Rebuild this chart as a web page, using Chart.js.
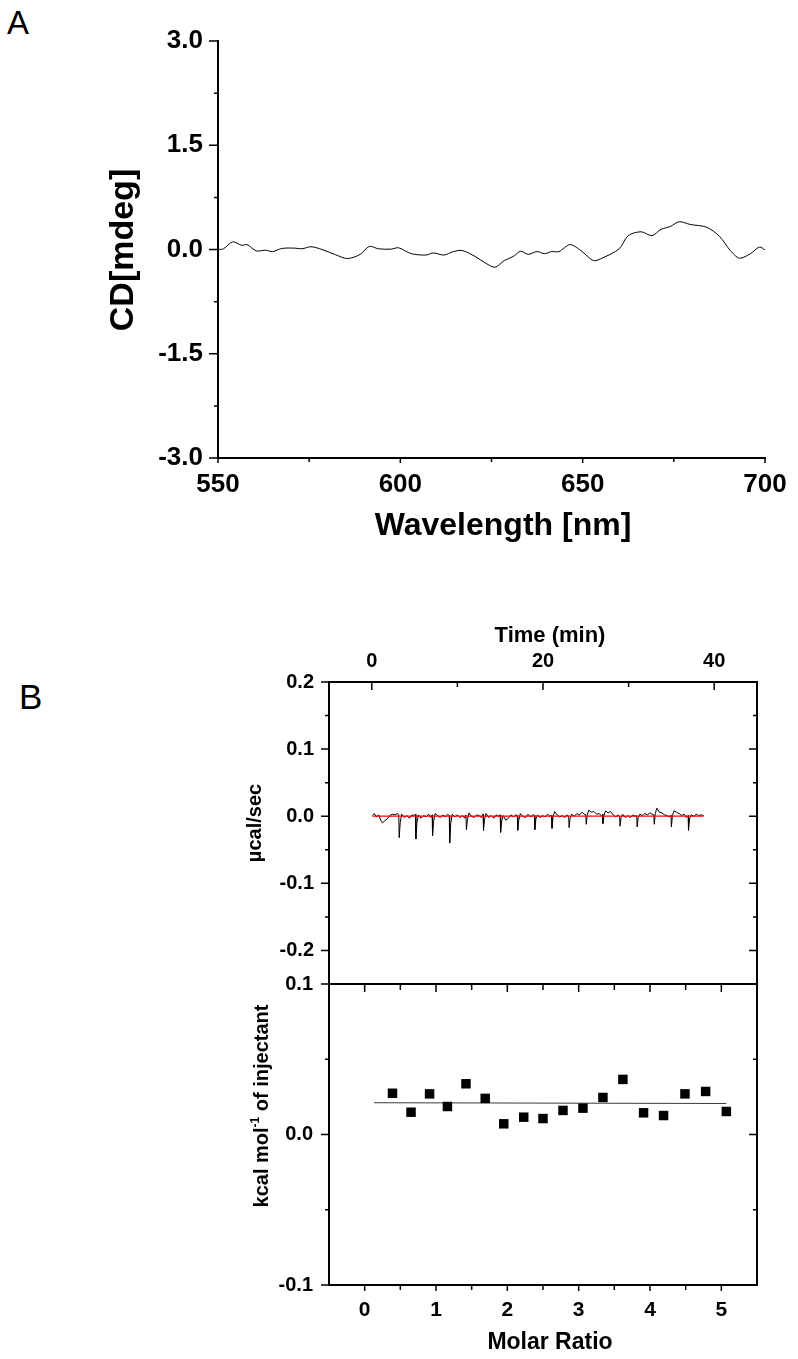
<!DOCTYPE html>
<html>
<head>
<meta charset="utf-8">
<script src="https://cdn.jsdelivr.net/npm/chart.js@4.4.0/dist/chart.umd.min.js"></script>
<style>
  html, body { margin: 0; padding: 0; background: #fff; }
  body { width: 798px; height: 1359px; position: relative; overflow: hidden; }
  canvas { position: absolute; left: 0; top: 0; }
  .panel { position: absolute; font-family: 'Liberation Sans', Arial, sans-serif; line-height: 1; color: #000; }
</style>
</head>
<body>
<div class="panel" style="left:7px; top:6px; font-size:33px">A</div>
<div class="panel" style="left:19px; top:679px; font-size:35px">B</div>
<canvas id="cdChart" width="798" height="1359"></canvas>
<canvas id="rawChart" width="798" height="1359"></canvas>
<canvas id="heatChart" width="798" height="1359"></canvas>
<script>
// panel A - CD spectrum
const wavelength = [550, 551.5, 554, 556.5, 558, 560.5, 563, 565, 567.5, 571, 573, 575.5, 578.5, 582, 585.5, 589, 591.5, 594, 597.5, 599.5,
  603, 607, 609, 612, 614.5, 617, 620.5, 623.5, 626, 628.5, 631, 633, 635, 637.5, 639.5, 641.5, 643.5, 646.5, 649.5, 653,
  655.5, 660, 662.5, 666, 669, 671.5, 674, 676.5, 679.5, 684, 687.5, 690.5, 693, 696, 698.5, 700]
const cdSignal = [0.00, 0.01, 0.11, 0.06, 0.07, -0.02, -0.01, -0.03, 0.015, 0.02, 0.01, 0.04, 0.0, -0.07, -0.13, -0.07, 0.045, 0.01, 0.005, 0.025,
  -0.06, -0.08, -0.05, -0.08, -0.03, -0.015, -0.10, -0.20, -0.255, -0.16, -0.10, -0.025, -0.07, -0.03, -0.06, -0.03, -0.03, 0.07, -0.015, -0.16,
  -0.12, 0.01, 0.20, 0.255, 0.20, 0.29, 0.33, 0.40, 0.36, 0.32, 0.19, -0.015, -0.125, -0.06, 0.035, -0.005]
const cdXTicks = [550, 600, 650, 700]
const cdXMinor = [575, 625, 675]
const cdYTicks = [-3, -1.5, 0, 1.5, 3]
const cdYMinor = [-2.25, -0.75, 0.75, 2.25]

// panel B top - raw ITC heat rate
const itcTime = [
  0.07, 0.3, 0.55, 0.8, 1.05, 1.25, 1.5, 1.8, 2.1, 2.4, 2.7, 2.95, 3.15,
  3.2, 3.32, 3.5, 3.8, 4.1, 4.4, 4.7, 4.95, 5.1,
  5.15, 5.27, 5.45, 5.75, 6.05, 6.35, 6.65, 6.9, 7.05,
  7.1, 7.22, 7.4, 7.7, 8.0, 8.3, 8.6, 8.85, 9.05,
  9.1, 9.22, 9.4, 9.7, 10.0, 10.3, 10.6, 10.85, 11.0,
  11.05, 11.17, 11.35, 11.65, 11.95, 12.25, 12.55, 12.8, 13.0,
  13.05, 13.17, 13.35, 13.65, 13.95, 14.25, 14.55, 14.8, 15.0,
  15.05, 15.17, 15.35, 15.65, 15.95, 16.25, 16.55, 16.8, 17.0,
  17.05, 17.17, 17.35, 17.65, 17.95, 18.25, 18.55, 18.8, 19.0,
  19.05, 19.17, 19.35, 19.65, 19.95, 20.25, 20.55, 20.8, 21.0,
  21.05, 21.17, 21.35, 21.65, 21.95, 22.25, 22.55, 22.8, 23.0,
  23.05, 23.17, 23.35, 23.65, 23.95, 24.25, 24.55, 24.8, 25.0,
  25.05, 25.17, 25.35, 25.65, 25.95, 26.25, 26.55, 26.8, 26.95,
  27.0, 27.12, 27.3, 27.6, 27.9, 28.2, 28.5, 28.75, 28.95,
  29.0, 29.12, 29.3, 29.6, 29.9, 30.2, 30.5, 30.75, 30.95,
  31.0, 31.12, 31.3, 31.6, 31.9, 32.2, 32.5, 32.75, 32.95,
  33.0, 33.12, 33.3, 33.6, 33.9, 34.2, 34.5, 34.75, 34.95,
  35.0, 35.12, 35.3, 35.6, 35.9, 36.2, 36.5, 36.75, 36.95,
  37.0, 37.12, 37.3, 37.6, 37.9, 38.2, 38.45, 38.75
]
const itcPower = [
  0.001, 0.004, -0.001, 0.002, -0.006, -0.010, -0.007, -0.004, 0.001, 0.003, 0.002, 0.004, 0.002,
  -0.032, -0.009, 0.003, -0.002, 0.001, -0.003, 0.002, 0.001, 0.003,
  -0.034, -0.010, 0.002, -0.003, 0.001, -0.001, 0.003, -0.002, 0.002,
  -0.029, -0.008, 0.004, 0.001, -0.002, 0.002, -0.001, 0.003, 0.001,
  -0.040, -0.011, 0.003, -0.001, 0.002, -0.002, 0.001, -0.003, 0.002,
  -0.020, -0.006, 0.005, 0.000, -0.002, 0.002, 0.001, -0.002, 0.003,
  -0.021, -0.005, 0.004, -0.002, 0.001, -0.003, 0.002, 0.000, 0.002,
  -0.024, -0.007, 0.001, -0.006, -0.003, 0.002, -0.001, 0.002, 0.001,
  -0.021, -0.006, 0.004, 0.000, -0.002, 0.003, -0.001, 0.002, 0.001,
  -0.020, -0.004, 0.002, -0.002, 0.001, -0.001, 0.003, 0.000, 0.001,
  -0.018, -0.002, 0.007, 0.002, -0.001, 0.001, -0.002, 0.002, 0.000,
  -0.017, -0.003, 0.003, 0.000, 0.004, 0.002, 0.006, 0.003, 0.002,
  -0.012, 0.002, 0.009, 0.006, 0.007, 0.003, 0.004, 0.001, 0.003,
  -0.011, 0.001, 0.008, 0.005, 0.007, 0.002, -0.001, 0.002, 0.000,
  -0.015, -0.002, 0.003, -0.002, 0.001, -0.002, 0.002, 0.000, 0.001,
  -0.016, -0.002, 0.003, 0.001, 0.004, 0.002, 0.005, 0.003, 0.002,
  -0.012, 0.004, 0.012, 0.006, 0.005, 0.002, 0.001, -0.001, 0.002,
  -0.016, 0.001, 0.008, 0.006, 0.004, 0.001, 0.003, -0.002, 0.001,
  -0.021, -0.004, 0.002, 0.000, 0.003, 0.001, 0.002, 0.001
]
const baselineTime = [0.07, 38.75]
const baselinePower = [0, 0]
const timeTicks = [0, 20, 40]
const timeMinor = [10, 30]
const powerTicks = [-0.2, -0.1, 0, 0.1, 0.2]
const powerMinor = [-0.15, -0.05, 0.05, 0.15]

// panel B bottom - integrated heats
const molarRatio = [0.39, 0.65, 0.91, 1.16, 1.42, 1.69, 1.95, 2.23, 2.50, 2.78, 3.06, 3.34, 3.62, 3.91, 4.19, 4.49, 4.78, 5.07]
const heat = [0.0274, 0.0148, 0.0270, 0.0186, 0.0337, 0.0240, 0.0071, 0.0115, 0.0106, 0.0160, 0.0175, 0.0246, 0.0366, 0.0144, 0.0126, 0.0270, 0.0286, 0.0153]
const fitRatio = [0.13, 5.07]
const fitHeat = [0.0211, 0.0206]
const ratioTicks = [0, 1, 2, 3, 4, 5]
const ratioMinor = [0.5, 1.5, 2.5, 3.5, 4.5]
const heatTicks = [-0.1, 0, 0.1]
const heatMinor = [-0.05, 0.05]

const FONT = "'Liberation Sans', Arial, Helvetica, sans-serif"
Chart.defaults.font.family = FONT
Chart.defaults.color = '#000'
Chart.defaults.animation = false
Chart.defaults.events = []
Chart.defaults.plugins.legend.display = false
Chart.defaults.plugins.tooltip.enabled = false

const pts = (xs, ys) => xs.map((x, i) => ({ x: x, y: ys[i] }))
const fixTicks = vals => scale => { scale.ticks = vals.map(v => ({ value: v })) }
const noGrid = { display: false, drawTicks: false }

// axis frame + tick marks (len > 0 outward, len < 0 inward)
function frame(cfg) {
  return {
    id: 'frame',
    afterDraw(chart) {
      const { ctx, chartArea: a } = chart
      ctx.save()
      ctx.strokeStyle = '#000'
      ctx.lineWidth = 2
      ctx.lineCap = 'square'
      ctx.beginPath()
      cfg.sides.forEach(side => {
        if (side === 'left') { ctx.moveTo(a.left, a.top); ctx.lineTo(a.left, a.bottom) }
        if (side === 'right') { ctx.moveTo(a.right, a.top); ctx.lineTo(a.right, a.bottom) }
        if (side === 'top') { ctx.moveTo(a.left, a.top); ctx.lineTo(a.right, a.top) }
        if (side === 'bottom') { ctx.moveTo(a.left, a.bottom); ctx.lineTo(a.right, a.bottom) }
      })
      ctx.stroke()
      ctx.lineWidth = 1.5
      ctx.lineCap = 'butt'
      ctx.beginPath()
      cfg.marks.forEach(m => {
        const s = chart.scales[m.scale]
        m.values.forEach(v => {
          const p = s.getPixelForValue(v)
          if (m.side === 'left') { ctx.moveTo(a.left, p); ctx.lineTo(a.left - m.len, p) }
          if (m.side === 'right') { ctx.moveTo(a.right, p); ctx.lineTo(a.right + m.len, p) }
          if (m.side === 'top') { ctx.moveTo(p, a.top); ctx.lineTo(p, a.top - m.len) }
          if (m.side === 'bottom') { ctx.moveTo(p, a.bottom); ctx.lineTo(p, a.bottom + m.len) }
        })
      })
      ctx.stroke()
      ctx.restore()
    }
  }
}

// axis titles, parts may be superscript
function titles(items) {
  return {
    id: 'titles',
    afterDraw(chart) {
      const ctx = chart.ctx
      items.forEach(t => {
        const parts = t.parts || [{ text: t.text }]
        const big = 'bold ' + t.size + 'px ' + FONT
        const small = 'bold ' + Math.round(t.size * 0.6) + 'px ' + FONT
        ctx.save()
        ctx.translate(t.x, t.y)
        if (t.rotate) ctx.rotate(-Math.PI / 2)
        ctx.fillStyle = '#000'
        ctx.textBaseline = 'middle'
        ctx.textAlign = 'left'
        let total = 0
        parts.forEach(p => { ctx.font = p.sup ? small : big; total += ctx.measureText(p.text).width })
        let x = -total / 2
        parts.forEach(p => {
          ctx.font = p.sup ? small : big
          ctx.fillText(p.text, x, p.sup ? -t.size * 0.3 : 0)
          x += ctx.measureText(p.text).width
        })
        ctx.restore()
      })
    }
  }
}

// A
new Chart(document.getElementById('cdChart'), {
  type: 'scatter',
  data: {
    datasets: [{
      data: pts(wavelength, cdSignal),
      showLine: true,
      borderColor: '#000',
      borderWidth: 1,
      pointRadius: 0,
      tension: 0.3
    }]
  },
  options: {
    responsive: false,
    layout: { padding: { left: 118, top: 41, right: 33, bottom: 841 } },
    scales: {
      x: {
        min: 550, max: 700,
        afterBuildTicks: fixTicks(cdXTicks),
        afterFit: s => { s.height = 60 },
        grid: noGrid, border: { display: false },
        ticks: { padding: 11, maxRotation: 0, font: { size: 26, weight: 'bold' } }
      },
      y: {
        min: -3, max: 3,
        afterBuildTicks: fixTicks(cdYTicks),
        afterFit: s => { s.width = 100 },
        grid: noGrid, border: { display: false },
        ticks: { padding: 15, font: { size: 26, weight: 'bold' }, callback: v => v.toFixed(1) }
      }
    }
  },
  plugins: [
    frame({
      sides: ['left', 'bottom'],
      marks: [
        { scale: 'y', side: 'left', values: cdYTicks, len: 9 },
        { scale: 'y', side: 'left', values: cdYMinor, len: 4 },
        { scale: 'x', side: 'bottom', values: cdXTicks, len: 5 },
        { scale: 'x', side: 'bottom', values: cdXMinor, len: 4 }
      ]
    }),
    titles([
      { text: 'Wavelength [nm]', x: 503, y: 526, size: 32 },
      { text: 'CD[mdeg]', x: 124, y: 250, size: 34, rotate: true }
    ])
  ]
})

// B top
new Chart(document.getElementById('rawChart'), {
  type: 'scatter',
  data: {
    datasets: [
      {
        data: pts(baselineTime, baselinePower),
        showLine: true, borderColor: '#ff0000', borderWidth: 1.3, pointRadius: 0, order: 0
      },
      {
        data: pts(itcTime, itcPower),
        showLine: true, borderColor: '#000', borderWidth: 1, pointRadius: 0, order: 1
      }
    ]
  },
  options: {
    responsive: false,
    layout: { padding: { left: 229, top: 622, right: 41, bottom: 375 } },
    scales: {
      x: {
        position: 'top',
        min: -5, max: 45,
        afterBuildTicks: fixTicks(timeTicks),
        afterFit: s => { s.height = 60 },
        grid: noGrid, border: { display: false },
        ticks: { padding: 9, maxRotation: 0, font: { size: 20, weight: 'bold' } }
      },
      y: {
        min: -0.25, max: 0.2,
        afterBuildTicks: fixTicks(powerTicks),
        afterFit: s => { s.width = 100 },
        grid: noGrid, border: { display: false },
        ticks: { padding: 15, font: { size: 20, weight: 'bold' }, callback: v => v.toFixed(1) }
      }
    }
  },
  plugins: [
    frame({
      sides: ['left', 'right', 'top', 'bottom'],
      marks: [
        { scale: 'y', side: 'left', values: powerTicks, len: 8 },
        { scale: 'y', side: 'left', values: powerMinor, len: 4 },
        { scale: 'y', side: 'right', values: powerTicks, len: -8 },
        { scale: 'y', side: 'right', values: powerMinor, len: -4 },
        { scale: 'x', side: 'top', values: timeTicks, len: -8 },
        { scale: 'x', side: 'top', values: timeMinor, len: -5 }
      ]
    }),
    titles([
      { text: 'Time (min)', x: 550, y: 636, size: 22 },
      { text: 'µcal/sec', x: 255, y: 823, size: 20, rotate: true }
    ])
  ]
})

// B bottom
new Chart(document.getElementById('heatChart'), {
  type: 'scatter',
  data: {
    datasets: [
      {
        data: pts(molarRatio, heat),
        pointStyle: 'rect', pointRadius: 6.7, pointBorderWidth: 0,
        backgroundColor: '#000', borderColor: '#000', order: 0
      },
      {
        data: pts(fitRatio, fitHeat),
        showLine: true, borderColor: '#3a3a3a', borderWidth: 1, pointRadius: 0, order: 1
      }
    ]
  },
  options: {
    responsive: false,
    layout: { padding: { left: 229, top: 984, right: 41, bottom: 14 } },
    scales: {
      x: {
        min: -0.5, max: 5.5,
        afterBuildTicks: fixTicks(ratioTicks),
        afterFit: s => { s.height = 60 },
        grid: noGrid, border: { display: false },
        ticks: { padding: 13, maxRotation: 0, font: { size: 21, weight: 'bold' } }
      },
      y: {
        min: -0.1, max: 0.1,
        afterBuildTicks: fixTicks(heatTicks),
        afterFit: s => { s.width = 100 },
        grid: noGrid, border: { display: false },
        ticks: { padding: 16, font: { size: 20, weight: 'bold' }, callback: v => v.toFixed(1) }
      }
    }
  },
  plugins: [
    frame({
      sides: ['left', 'right', 'top', 'bottom'],
      marks: [
        { scale: 'y', side: 'left', values: heatTicks, len: 8 },
        { scale: 'y', side: 'left', values: heatMinor, len: 4 },
        { scale: 'y', side: 'right', values: heatTicks, len: -8 },
        { scale: 'y', side: 'right', values: heatMinor, len: -4 },
        { scale: 'x', side: 'bottom', values: ratioTicks, len: 6 },
        { scale: 'x', side: 'bottom', values: ratioMinor, len: 5 },
        { scale: 'x', side: 'top', values: ratioTicks, len: -8 },
        { scale: 'x', side: 'top', values: ratioMinor, len: -6 }
      ]
    }),
    titles([
      { text: 'Molar Ratio', x: 550, y: 1343, size: 23 },
      { parts: [{ text: 'kcal mol' }, { text: '-1', sup: true }, { text: ' of injectant' }], x: 262, y: 1106, size: 20, rotate: true }
    ])
  ]
})
</script>
</body>
</html>
